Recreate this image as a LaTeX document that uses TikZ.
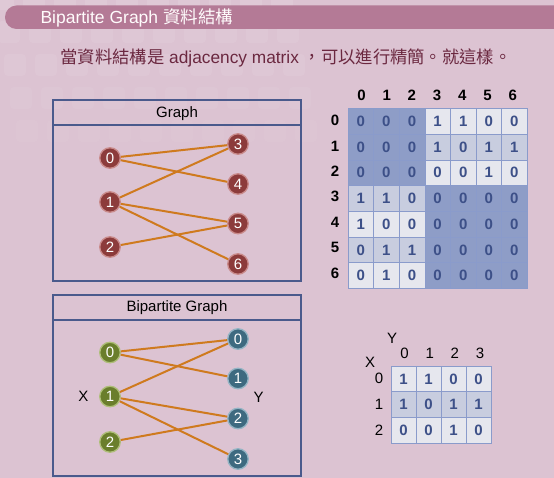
\documentclass[tikz,border=0pt]{standalone}
\usepackage{fontspec}
\setmainfont{Liberation Sans}
\newfontfamily\cjk{Noto Sans CJK TC}
\definecolor{bgpink}{HTML}{DCC3D2}
\definecolor{barrose}{HTML}{B47A96}
\definecolor{subtxt}{HTML}{6B2840}
\definecolor{boxline}{HTML}{4A5A8C}
\definecolor{edgeor}{HTML}{CF7A1E}
\definecolor{nred}{HTML}{8C3B3B}
\definecolor{nredr}{HTML}{C98A8A}
\definecolor{ngreen}{HTML}{6A7E2C}
\definecolor{ngreenr}{HTML}{AEBE78}
\definecolor{nblue}{HTML}{3E6A80}
\definecolor{nbluer}{HTML}{93B4C4}
\definecolor{cdark}{HTML}{8E9DC7}
\definecolor{cmed}{HTML}{C8CDDF}
\definecolor{clight}{HTML}{E6E7EE}
\definecolor{cnum}{HTML}{3D5088}
\definecolor{cgrid}{HTML}{8A9BCB}
\begin{document}
\begin{tikzpicture}[x=1pt,y=-1pt,
  gbox/.style={draw=boxline,line width=1.2pt},
  vnode/.style={circle,minimum size=20.5pt,inner sep=0pt,line width=1.3pt,
    text=white,font=\fontsize{15}{15}\selectfont},
  rednode/.style={vnode,fill=nred,draw=nredr},
  greennode/.style={vnode,fill=ngreen,draw=ngreenr},
  bluenode/.style={vnode,fill=nblue,draw=nbluer},
  edge/.style={edgeor,line width=2pt},
  cell/.style={minimum width=25.6pt,minimum height=25.7pt,inner sep=0pt,
    draw=cgrid,line width=0.6pt,text=cnum,font=\fontsize{15}{15}\selectfont\bfseries},
  scell/.style={cell,minimum width=25pt},
  hdr/.style={font=\fontsize{15}{15}\selectfont,text=black},
  boxtitle/.style={font=\fontsize{15}{15}\selectfont,text=black}]
\useasboundingbox (0,0) rectangle (554,478);
\fill[bgpink] (0,0) rectangle (554,478);
% faint decorative squares
\foreach \r/\op in {0/0.10,1/0.08,2/0.07,3/0.05,4/0.04}{
  \foreach \c in {0,...,9}{
    \pgfmathsetmacro{\xx}{-8+\c*31+\r*6}
    \pgfmathsetmacro{\yy}{-12+\r*33}
    \fill[white,opacity=\op,rounded corners=4pt] (\xx,\yy) rectangle ++(22,22);
  }}
% header bar
\fill[barrose,rounded corners=11.5pt] (5,5.5) rectangle (570,29);
\node[anchor=west,text=white!95!pink,font=\fontsize{17.5}{18}\selectfont] (title) at (37,17.5)
  {Bipartite Graph {\cjk 資料結構}};
% subtitle
\node[text=subtxt,font=\fontsize{17.3}{18}\selectfont] (sub) at (286,58)
  {{\cjk 當資料結構是} adjacency matrix {\cjk ，可以進行精簡。就這樣。}};
% Graph box
\draw[gbox] (53,100) rectangle (301,281);
\draw[gbox] (53,125) -- (301,125);
\node[boxtitle] (gt) at (177,113.5) {Graph};
\node[rednode] (g0) at (110,158) {0};
\node[rednode] (g1) at (110,202) {1};
\node[rednode] (g2) at (110,247) {2};
\node[rednode] (g3) at (238,144) {3};
\node[rednode] (g4) at (238,184) {4};
\node[rednode] (g5) at (238,223.5) {5};
\node[rednode] (g6) at (238,264) {6};
\foreach \a/\b in {g0/g3,g0/g4,g1/g3,g1/g5,g1/g6,g2/g5}
  \draw[edge] (\a) -- (\b);
% Bipartite box
\draw[gbox] (53,295) rectangle (301,476);
\draw[gbox] (53,320) -- (301,320);
\node[boxtitle] (bt) at (177,308) {Bipartite Graph};
\node[greennode] (x0) at (110,352.5) {0};
\node[greennode] (x1) at (110,396.5) {1};
\node[greennode] (x2) at (110,442) {2};
\node[bluenode] (y0) at (238,339) {0};
\node[bluenode] (y1) at (238,378.5) {1};
\node[bluenode] (y2) at (238,418.5) {2};
\node[bluenode] (y3) at (238,459) {3};
\node[hdr] (xl) at (83.5,396) {X};
\node[hdr] (yl) at (258.5,397) {Y};
\foreach \a/\b in {x0/y0,x0/y1,x1/y0,x1/y2,x1/y3,x2/y2}
  \draw[edge] (\a) -- (\b);
% big matrix
\foreach \row [count=\r from 0] in {{0,0,0,1,1,0,0},{0,0,0,1,0,1,1},{0,0,0,0,0,1,0},
    {1,1,0,0,0,0,0},{1,0,0,0,0,0,0},{0,1,1,0,0,0,0},{0,1,0,0,0,0,0}}{
  \foreach \v [count=\c from 0] in \row {
    \pgfmathtruncatemacro{\dk}{((\r<3)&&(\c<3))||((\r>2)&&(\c>2))}
    \pgfmathtruncatemacro{\od}{mod(\r,2)}
    \ifnum\dk=1 \def\cc{cdark}\else\ifnum\od=1 \def\cc{cmed}\else\def\cc{clight}\fi\fi
    \node[cell,fill=\cc] (m-\r-\c) at (360.8+\c*25.6,121.35+\r*25.7) {\v};
  }}
\foreach \c in {0,...,6}
  \node[hdr,font=\fontsize{15}{15}\selectfont\bfseries] (mh-\c) at (361.5+\c*25.2,95) {\c};
\foreach \r in {0,...,6}
  \node[hdr,font=\fontsize{15}{15}\selectfont\bfseries] (mr-\r) at (335,120.5+\r*25.4) {\r};
% small matrix
\foreach \row [count=\r from 0] in {{1,1,0,0},{1,0,1,1},{0,0,1,0}}{
  \foreach \v [count=\c from 0] in \row {
    \pgfmathtruncatemacro{\od}{mod(\r,2)}
    \ifnum\od=1 \def\cc{cmed}\else\def\cc{clight}\fi
    \node[scell,fill=\cc] (s-\r-\c) at (403.5+\c*25,378.85+\r*25.7) {\v};
  }}
\foreach \c in {0,...,3}
  \node[hdr] (sh-\c) at (404.5+\c*25.2,353) {\c};
\foreach \r in {0,...,2}
  \node[hdr] (sr-\r) at (379,378+\r*26) {\r};
\node[hdr] (sY) at (392,338) {Y};
\node[hdr] (sX) at (370,362) {X};
\end{tikzpicture}
\end{document}
